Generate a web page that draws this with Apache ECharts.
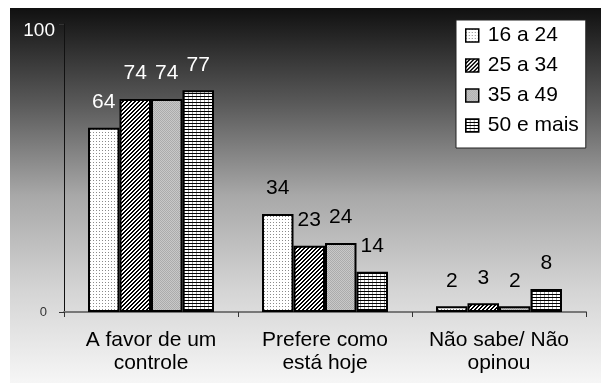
<!DOCTYPE html>
<html><head><meta charset="utf-8">
<script src="https://cdn.jsdelivr.net/npm/echarts@6/dist/echarts.min.js"></script>
<style>html,body{margin:0;padding:0;background:#fff}#c{width:601px;height:383px}</style>
</head><body><div id="c"></div>
<script>
const categories = ['A favor de um\ncontrole', 'Prefere como\nestá hoje', 'Não sabe/ Não\nopinou'];
const seriesNames = ['16 a 24', '25 a 34', '35 a 49', '50 e mais'];
const s16a24 = [64, 34, 2];
const s25a34 = [74, 23, 3];
const s35a49 = [74, 24, 2];
const s50mais = [77, 14, 8];
const yTicks = [0, 100];

const FONT = 'Liberation Sans, Arial, sans-serif';
function pat(w, h, draw) {
  const c = document.createElement('canvas');
  c.width = w; c.height = h;
  const g = c.getContext('2d');
  draw(g);
  return { image: c, repeat: 'repeat' };
}
const pDots = pat(3, 3, g => { g.fillStyle = '#fff'; g.fillRect(0,0,3,3); g.fillStyle = '#8a8a8a'; g.fillRect(0,0,1,1); });
const pDiag = pat(4, 4, g => {
  g.fillStyle = '#fff'; g.fillRect(0,0,4,4); g.fillStyle = '#000';
  for (let i = 0; i < 4; i++) { g.fillRect((3 - i + 4) % 4, i, 1, 1); g.fillRect((4 - i + 4) % 4, i, 1, 1); }
});
const pGray = pat(2, 2, g => { g.fillStyle = '#c8c8c8'; g.fillRect(0,0,2,2); g.fillStyle = '#ababab'; g.fillRect(0,0,1,1); g.fillRect(1,1,1,1); });
const pHoriz = pat(4, 3, g => { g.fillStyle = '#fff'; g.fillRect(0,0,4,3); g.fillStyle = '#000'; g.fillRect(0,0,4,1); g.fillStyle = '#9a9a9a'; g.fillRect(0,1,1,2); });
const patterns = [pDots, pDiag, pGray, pHoriz];
const dataSets = [s16a24, s25a34, s35a49, s50mais];

const chart = echarts.init(document.getElementById('c'));
const series = seriesNames.map((name, i) => ({
  name, type: 'bar', data: dataSets[i].map((v, j) => ({
    value: v,
    label: { color: j === 0 ? '#ffffff' : '#000000' }
  })),
  barGap: '0%', barCategoryGap: '27.6%',
  itemStyle: { color: patterns[i], borderColor: '#000', borderWidth: 2 },
  label: { show: true, position: 'top', distance: 15, fontSize: 21, fontFamily: FONT },
  emphasis: { disabled: true }
}));

chart.setOption({
  animation: false,
  graphic: [{
    type: 'rect', z: -10, silent: true,
    shape: { x: 10, y: 8, width: 591, height: 375 },
    style: { fill: new echarts.graphic.LinearGradient(0, 0, 0, 1, [
      { offset: 0, color: '#101010' }, { offset: 0.25, color: '#585858' },
      { offset: 0.5, color: '#a8a8a8' }, { offset: 0.75, color: '#d4d4d4' },
      { offset: 1, color: '#f6f6f6' }]) }
  }],
  grid: { left: 64, right: 15, top: 24, bottom: 71 },
  legend: {
    orient: 'vertical', left: 456, top: 20,
    padding: [5, 7, 12, 9], itemGap: 9, itemWidth: 13, itemHeight: 13,
    backgroundColor: '#fff', borderColor: '#222', borderWidth: 1,
    icon: 'rect',
    itemStyle: { borderColor: '#000', borderWidth: 1.5 },
    textStyle: { fontSize: 21, lineHeight: 21, color: '#000', fontFamily: FONT, padding: [0, 0, 0, 4] },
    data: seriesNames
  },
  xAxis: {
    type: 'category', data: categories,
    axisLine: { lineStyle: { color: '#777', width: 2 } },
    axisTick: { show: true, length: 5, lineStyle: { color: '#333', width: 1 } },
    axisLabel: { interval: 0, fontSize: 21, color: '#000', margin: 17, lineHeight: 23, fontFamily: FONT }
  },
  yAxis: {
    type: 'value', min: yTicks[0], max: yTicks[1], interval: 100,
    axisLine: { show: true, lineStyle: { color: '#111', width: 1 } },
    axisTick: { show: true, length: 5, lineStyle: { color: '#333' } },
    splitLine: { show: false },
    axisLabel: {
      margin: 9,
      formatter: v => v === 100 ? '{w|100}' : '{k|' + v + '}',
      rich: {
        w: { color: '#fff', fontSize: 19, fontFamily: FONT, padding: [14, 0, 0, 0] },
        k: { color: '#333', fontSize: 13, fontFamily: FONT, padding: [0, 8, 0, 0] }
      }
    }
  },
  series
});
</script></body></html>
